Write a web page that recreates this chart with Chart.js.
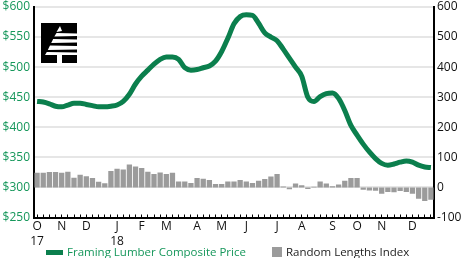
<!DOCTYPE html>
<html lang="en">
<head>
    <meta charset="UTF-8">
    <title>Framing Lumber Composite Price</title>
    <script src="https://cdn.jsdelivr.net/npm/chart.js"></script>
    <style>
        body { margin: 0; background: #fff; font-family: 'Open Sans', sans-serif; }
        .wrap { position: relative; width: 466px; height: 258px; }
        .logo { position: absolute; left: 41px; top: 23px; width: 36px; height: 40px; }
        .legend-item { position: absolute; top: 244px; font-size: 11.5px; line-height: 16px; white-space: nowrap; }
        .swatch { position: absolute; }
    </style>
</head>
<body>
<div class="wrap">
    <canvas id="lumberChart" width="466" height="258"></canvas>

    <!-- logo -->
    <svg class="logo" viewBox="0 0 36 40">
        <rect width="36" height="40" fill="#000"/>
        <g fill="#fff">
            <polygon points="19,3 21,8 15.5,9"/>
            <polygon points="15.5,10 36,10.5 36,13 13.3,13.5"/>
            <polygon points="12.2,16 36,16.5 36,19.5 10.2,20"/>
            <polygon points="9,22.5 36,23 36,26.5 6.8,27"/>
            <polygon points="5.8,29 36,29.5 36,32 4,32"/>
            <rect x="16" y="32" width="5" height="8"/>
        </g>
    </svg>

    <div class="swatch" style="left:46px; top:250px; width:17px; height:5px; background:#0b7f4d;"></div>
    <div class="legend-item" style="left:67px; color:#16975b;">Framing Lumber Composite Price</div>
    <div class="swatch" style="left:272px; top:247px; width:10px; height:10px; background:#9b9b9b;"></div>
    <div class="legend-item" style="left:286px; color:#222;">Random Lengths Index</div>
</div>

<script>
    // weekly dates (Fridays), Oct 2017 - Dec 2018
    const weeks = [
        '2017-10-06', '2017-10-13', '2017-10-20', '2017-10-27', '2017-11-03', '2017-11-10', '2017-11-17', '2017-11-24',
        '2017-12-01', '2017-12-08', '2017-12-15', '2017-12-22', '2017-12-29', '2018-01-05', '2018-01-12', '2018-01-19',
        '2018-01-26', '2018-02-02', '2018-02-09', '2018-02-16', '2018-02-23', '2018-03-02', '2018-03-09', '2018-03-16',
        '2018-03-23', '2018-03-30', '2018-04-06', '2018-04-13', '2018-04-20', '2018-04-27', '2018-05-04', '2018-05-11',
        '2018-05-18', '2018-05-25', '2018-06-01', '2018-06-08', '2018-06-15', '2018-06-22', '2018-06-29', '2018-07-06',
        '2018-07-13', '2018-07-20', '2018-07-27', '2018-08-03', '2018-08-10', '2018-08-17', '2018-08-24', '2018-08-31',
        '2018-09-07', '2018-09-14', '2018-09-21', '2018-09-28', '2018-10-05', '2018-10-12', '2018-10-19', '2018-10-26',
        '2018-11-02', '2018-11-09', '2018-11-16', '2018-11-23', '2018-11-30', '2018-12-07', '2018-12-14', '2018-12-21',
        '2018-12-28'
    ];

    // Framing Lumber Composite Price ($, left axis)
    const compositePrice = [
        443, 442, 439, 435, 434, 437, 440, 440, 438, 436,
        434, 434, 435, 437, 443, 455, 472, 485, 495, 505,
        513, 517, 517, 513, 499, 495, 496, 499, 502, 510,
        526, 548, 572, 584, 587, 586, 573, 557, 550, 544,
        530, 515, 500, 485, 450, 443, 451, 456, 457, 448,
        428, 403, 387, 372, 359, 348, 340, 337, 339, 342,
        344, 342, 337, 334, 333
    ];

    // Random Lengths Index (right axis)
    const lengthsIndex = [
        49, 49, 51, 51, 49, 52, 32, 42, 37, 31,
        19, 14, 55, 62, 60, 76, 70, 65, 52, 45,
        50, 45, 49, 20, 20, 15, 31, 29, 25, 11,
        11, 20, 20, 25, 20, 15, 22, 28, 36, 45,
        3, -6, 13, 7, -5, 2, 20, 13, 4, 10,
        22, 31, 31, -8, -10, -11, -21, -15, -16, -12,
        -15, -21, -38, -45, -41
    ];

    // month tick labels (first week of each month)
    const monthTickWeeks = [0, 4, 8, 13, 17, 21, 26, 30, 34, 39, 43, 48, 52, 56, 61];
    const monthTickText = ['O', 'N', 'D', 'J', 'F', 'M', 'A', 'M', 'J', 'J', 'A', 'S', 'O', 'N', 'D'];
    const yearTickText = ['17', '', '', '18', '', '', '', '', '', '', '', '', '', '', ''];

    const GREEN = '#0b7f4d';
    const GREEN_TEXT = '#16975b';
    const FONT = { family: "'Open Sans', sans-serif", size: 12 };

    Chart.defaults.font = FONT;
    Chart.defaults.color = '#222';

    const ctx = document.getElementById('lumberChart').getContext('2d');
    new Chart(ctx, {
        data: {
            labels: weeks,
            datasets: [{
                type: 'line',
                label: 'Framing Lumber Composite Price',
                data: compositePrice,
                yAxisID: 'y',
                borderColor: GREEN,
                borderWidth: 5,
                pointRadius: 0,
                tension: 0.4,
                cubicInterpolationMode: 'monotone',
                order: 0
            }, {
                type: 'bar',
                label: 'Random Lengths Index',
                data: lengthsIndex,
                yAxisID: 'y1',
                backgroundColor: '#9b9b9b',
                barPercentage: 0.86,
                categoryPercentage: 1,
                order: 1
            }]
        },
        options: {
            responsive: false,
            animation: false,
            layout: { padding: { top: 7, left: 0, right: 0, bottom: 0 } },
            plugins: {
                legend: { display: false },
                tooltip: { enabled: false }
            },
            scales: {
                x: {
                    offset: true,
                    grid: { drawOnChartArea: false, color: '#000', tickLength: -3, offset: false },
                    border: { color: '#000', width: 2 },
                    ticks: {
                        autoSkip: false,
                        maxRotation: 0,
                        padding: 5,
                        color: '#111',
                        callback: function (value, index) {
                            const k = monthTickWeeks.indexOf(index);
                            if (k < 0) return '';
                            return yearTickText[k] ? [monthTickText[k], yearTickText[k]] : monthTickText[k];
                        }
                    },
                    afterFit: function (scale) {
                        scale.height = 40.5;
                        scale.paddingLeft = 0;
                        scale.paddingRight = 0;
                    }
                },
                y: {
                    position: 'left',
                    min: 250,
                    max: 600,
                    grid: { color: '#e6e6e6', lineWidth: 2, drawTicks: false },
                    border: { color: '#000', width: 2 },
                    ticks: {
                        stepSize: 25,
                        padding: 4,
                        color: GREEN_TEXT,
                        callback: v => '$' + v
                    },
                    afterFit: function (scale) {
                        scale.width = 34;
                        scale.paddingTop = 0;
                        scale.paddingBottom = 0;
                    }
                },
                y1: {
                    position: 'right',
                    min: -100,
                    max: 600,
                    grid: { display: false, drawTicks: false },
                    border: { color: '#000', width: 2 },
                    ticks: { stepSize: 50, padding: 3, color: '#111' },
                    afterFit: function (scale) {
                        scale.width = 32;
                        scale.paddingTop = 0;
                        scale.paddingBottom = 0;
                    }
                }
            }
        }
    });
</script>
</body>
</html>
